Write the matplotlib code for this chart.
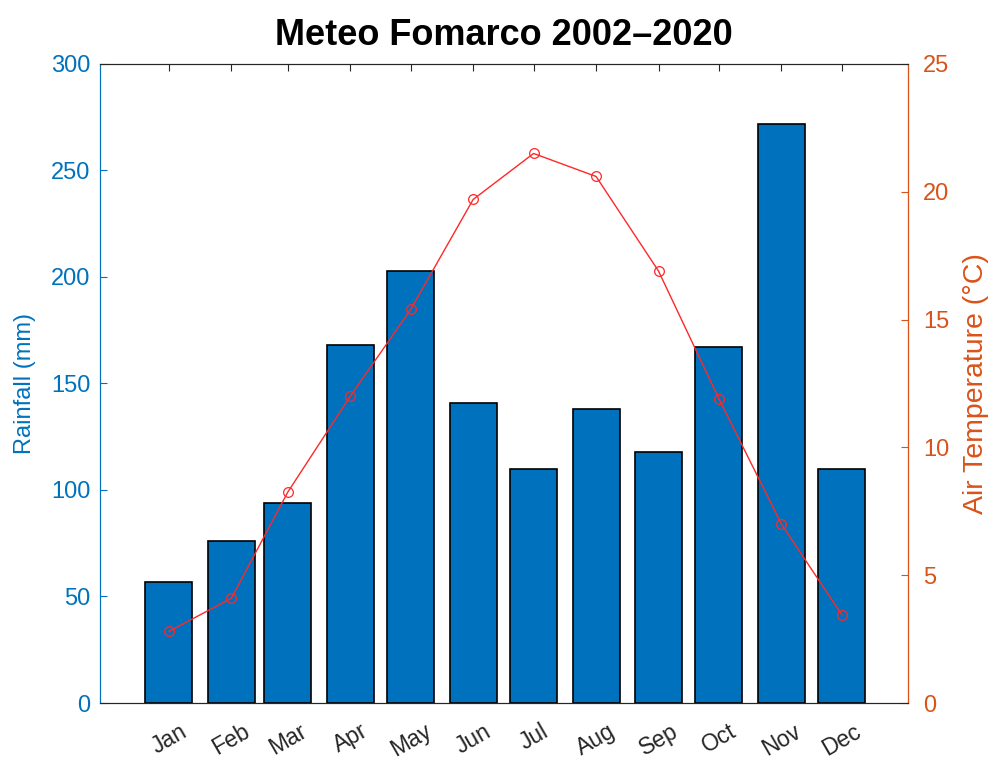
import numpy as np
import pandas as pd
import matplotlib.pyplot as plt

plt.rcParams['font.family'] = ['Liberation Sans', 'DejaVu Sans']

months = ['Jan', 'Feb', 'Mar', 'Apr', 'May', 'Jun',
          'Jul', 'Aug', 'Sep', 'Oct', 'Nov', 'Dec']
rainfall = [57, 76, 94, 168, 203, 141, 110, 138, 118, 167, 272, 110]
temperature = [2.8, 4.1, 8.25, 12.0, 15.4, 19.7, 21.5, 20.6, 16.9, 11.9, 7.0, 3.45]

# bars sit on the first day of each month (day-of-year scale)
starts = pd.date_range('2021-01-01', periods=12, freq='MS')
x = np.array((starts - starts[0]).days, dtype=float)

blue = '#0072BD'
orange = '#D95319'
dark = '#262626'

fig = plt.figure(figsize=(9.96, 7.6), dpi=100)
ax = fig.add_axes([0.1004, 0.075, 0.8112, 0.8408])
ax.bar(x, rainfall, width=23.3, color=blue, edgecolor='black', linewidth=1.2, zorder=2)
ax.set_xlim(-34.2, 366.8)
ax.set_ylim(0, 300)
ax.set_yticks(np.arange(0, 301, 50))
ax.set_xticks(x)
ax.set_xticklabels(months, rotation=30, fontsize=16.5, color=dark)
ax.set_ylabel('Rainfall (mm)', color=blue, fontsize=17, labelpad=11)
ax.tick_params(axis='y', colors=blue, labelsize=17, direction='in', length=5, pad=7)
ax.tick_params(axis='x', direction='in', length=5, top=True, color=dark, pad=12)
ax.spines['left'].set_color(blue)
ax.spines['top'].set_color(dark)
ax.spines['bottom'].set_color(dark)

ax2 = ax.twinx()
ax2.plot(x, temperature, color='#FF2828', linewidth=1, marker='o',
         markersize=7, markerfacecolor='none', markeredgewidth=0.9, zorder=3)
ax2.set_ylim(0, 25)
ax2.set_yticks(np.arange(0, 26, 5))
ax2.set_ylabel('Air Temperature (°C)', color=orange, fontsize=20.5, labelpad=10)
ax2.tick_params(axis='y', colors=orange, labelsize=17, direction='in', length=5, pad=11)
ax2.spines['right'].set_color(orange)
ax2.spines['left'].set_color(blue)
ax2.spines['top'].set_color(dark)
ax2.spines['bottom'].set_color(dark)

ax.set_title('Meteo Fomarco 2002–2020', fontsize=26, fontweight='bold', pad=14)

fig.savefig('out.png')
